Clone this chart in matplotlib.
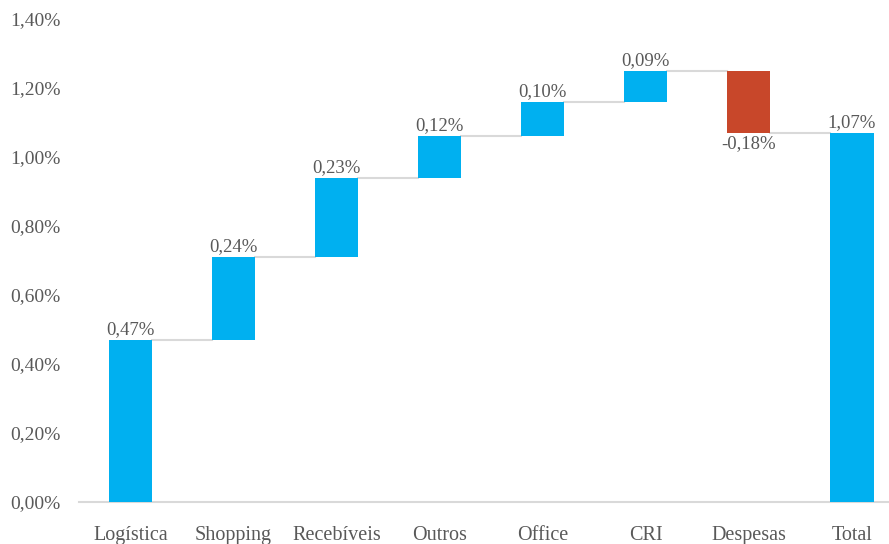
import matplotlib
matplotlib.use("Agg")
import matplotlib.pyplot as plt
import numpy as np

categories = ["Logística", "Shopping", "Recebíveis", "Outros", "Office", "CRI", "Despesas", "Total"]
deltas = [0.47, 0.24, 0.23, 0.12, 0.10, 0.09, -0.18]
total = 1.07
labels = ["0,47%", "0,24%", "0,23%", "0,12%", "0,10%", "0,09%", "-0,18%", "1,07%"]
yticks = [0.0, 0.2, 0.4, 0.6, 0.8, 1.0, 1.2, 1.4]
ytick_labels = ["0,00%", "0,20%", "0,40%", "0,60%", "0,80%", "1,00%", "1,20%", "1,40%"]

plt.rcParams['font.family'] = ['Liberation Serif', 'DejaVu Serif']
BLUE = "#00B0F0"
RED = "#C8472A"
GRAY = "#595959"
LINE = "#D9D9D9"

fig = plt.figure(figsize=(8.89, 5.44), dpi=100)
ax = fig.add_axes([79/889, 42/544, 1 - 79/889, (502-19)/544])

x = np.arange(len(categories))
width = 0.42
cum = np.cumsum(deltas)
bottoms = list(np.concatenate([[0], cum[:-1]]))
heights = list(deltas)
bottoms.append(0)
heights.append(total)
colors = [BLUE if d >= 0 else RED for d in deltas] + [BLUE]

for i in range(len(categories)):
    b, h = bottoms[i], heights[i]
    lo, hi = min(b, b + h), max(b, b + h)
    ax.bar(x[i], hi - lo, bottom=lo, width=width, color=colors[i], zorder=3)
    if h >= 0:
        ax.text(x[i], hi + 0.006, labels[i], ha="center", va="bottom", fontsize=13.5, color=GRAY)
    else:
        ax.text(x[i], lo - 0.006, labels[i], ha="center", va="top", fontsize=13.5, color=GRAY)

# connectors
levels = list(cum)
for i in range(len(categories) - 1):
    ax.plot([x[i] + width/2, x[i+1] - width/2], [levels[i], levels[i]], color=LINE, lw=1.5, zorder=2)

ax.set_xlim(-0.5, 7.36)
ax.set_ylim(0, 1.4)
ax.set_yticks(yticks)
ax.set_yticklabels(ytick_labels, fontsize=14, color=GRAY)
ax.set_xticks(x)
ax.set_xticklabels(categories, fontsize=14.5, color=GRAY)
ax.tick_params(axis="both", length=0)
ax.tick_params(axis="y", pad=13)
ax.tick_params(axis="x", pad=17)
for s in ["top", "right", "left"]:
    ax.spines[s].set_visible(False)
ax.spines["bottom"].set_color(LINE)
ax.spines["bottom"].set_linewidth(1.5)
ax.patch.set_alpha(0)

fig.savefig("out.png", dpi=100)
